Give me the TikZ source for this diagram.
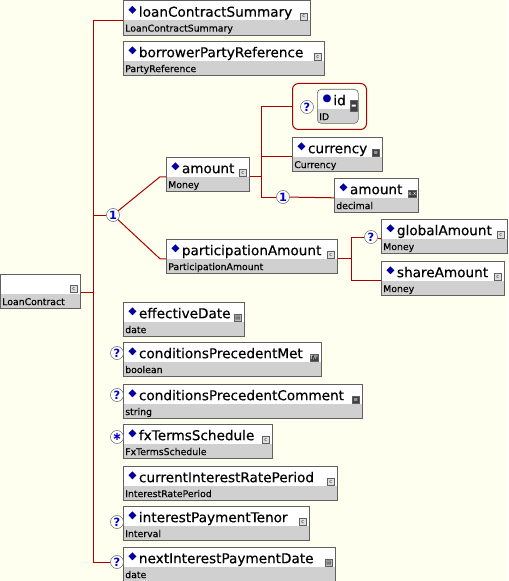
\documentclass[tikz,border=0pt]{standalone}
\usepackage{fontspec}
\setmainfont{DejaVu Sans}
\newfontfamily\namefam{DejaVu Sans}[FakeBold=0.4]
\usepackage{tikz}
\usetikzlibrary{positioning,shapes.multipart,calc}

\definecolor{canvas}{RGB}{255,255,240}
\definecolor{wirered}{RGB}{170,0,0}
\definecolor{boxline}{RGB}{96,96,96}
\definecolor{typegray}{RGB}{208,208,208}
\definecolor{dmdblue}{RGB}{0,0,160}
\definecolor{cardblue}{RGB}{0,0,200}
\definecolor{icondark}{RGB}{64,64,64}

\newcommand{\namefont}{\namefam\fontsize{10.2}{12}\selectfont}
\newcommand{\typefont}{\fontsize{7}{8}\selectfont}
\newcommand{\namestrut}{\rule[-2.5pt]{0pt}{14.25pt}}
\newcommand{\typestrut}{\rule[-2.25pt]{0pt}{10.5pt}}
\newcommand{\dmd}{\hspace*{2.5pt}\textcolor{dmdblue}{\raisebox{3.2pt}{\fontsize{7.5}{7.5}\selectfont ◆}}\hspace{2pt}}
\newcommand{\attdot}{\hspace*{2.5pt}\textcolor{dmdblue}{\raisebox{3.2pt}{\fontsize{7.5}{7.5}\selectfont ●}}\hspace{1.5pt}}

\begin{document}
\begin{tikzpicture}[
    x=0.75pt, y=-0.75pt,
    elem/.style={rectangle split, rectangle split parts=2,
      rectangle split draw splits=false,
      rectangle split part fill={white,typegray},
      rectangle split part align={left,left},
      draw=boxline, inner xsep=1.5pt, inner ysep=0pt,
      anchor=north west, font=\namefont},
    boxw/.style={minimum width=#1*0.75pt},
    icon/.style={draw=boxline, inner sep=0pt, minimum size=5.25pt,
      anchor=south east, font=\fontsize{4}{4}\selectfont},
    cpxicon/.style={icon, fill=gray!25, text=black!80},
    simpleicon/.style={icon, fill=icondark, text=white},
    dateicon/.style={icon, fill=gray!55, text=black!80},
    card/.style={circle, draw=gray!80!black, fill=white, inner sep=0pt,
      minimum size=9.75pt, text=cardblue, font=\bfseries\fontsize{8.5}{8.5}\selectfont},
    wire/.style={draw=wirered, line width=0.75pt},
    group/.style={draw=wirered, line width=0.75pt, rounded corners=4.5pt},
  ]

  \fill[canvas] (0,0) rectangle (508,581);
  \useasboundingbox (0,0) rectangle (508,581);

  % --- root ---
  \node[elem, boxw=80] (root) at (0,274) {\namestrut \nodepart{two}\typefont\typestrut LoanContract};
  \node[cpxicon] (root-ic) at ($(root.text split east)+(-3,-1)$) {c};

  % --- sequence children ---
  \node[elem, boxw=187] (lcs) at (123,0.5) {\namestrut\dmd loanContractSummary \nodepart{two}\typefont\typestrut LoanContractSummary};
  \node[cpxicon] (lcs-ic) at ($(lcs.text split east)+(-3,0)$) {c};

  \node[elem, boxw=201] (bpr) at (123,41) {\namestrut\dmd borrowerPartyReference \nodepart{two}\typefont\typestrut PartyReference};
  \node[cpxicon] (bpr-ic) at ($(bpr.text split east)+(-3,0)$) {c};

  \node[elem, boxw=121] (eff) at (123,302) {\namestrut\dmd effectiveDate \nodepart{two}\typefont\typestrut date};
  \node[dateicon] (eff-ic) at ($(eff.text split east)+(-3,0)$) {▤};

  \node[elem, boxw=198] (cpm) at (123,342) {\namestrut\dmd conditionsPrecedentMet \nodepart{two}\typefont\typestrut boolean};
  \node[simpleicon] (cpm-ic) at ($(cpm.text split east)+(-3,0)$) {T/F};

  \node[elem, boxw=239] (cpc) at (123,384) {\namestrut\dmd conditionsPrecedentComment \nodepart{two}\typefont\typestrut string};
  \node[simpleicon] (cpc-ic) at ($(cpc.text split east)+(-3,0)$) {≡};

  \node[elem, boxw=149] (fxts) at (123,424) {\namestrut\dmd fxTermsSchedule \nodepart{two}\typefont\typestrut FxTermsSchedule};
  \node[cpxicon] (fxts-ic) at ($(fxts.text split east)+(-3,0)$) {c};

  \node[elem, boxw=214] (cirp) at (123,466) {\namestrut\dmd currentInterestRatePeriod \nodepart{two}\typefont\typestrut InterestRatePeriod};
  \node[cpxicon] (cirp-ic) at ($(cirp.text split east)+(-3,0)$) {c};

  \node[elem, boxw=186] (ipt) at (123,506) {\namestrut\dmd interestPaymentTenor \nodepart{two}\typefont\typestrut Interval};
  \node[cpxicon] (ipt-ic) at ($(ipt.text split east)+(-3,0)$) {c};

  \node[elem, boxw=212] (nipd) at (123,547) {\namestrut\dmd nextInterestPaymentDate \nodepart{two}\typefont\typestrut date};
  \node[dateicon] (nipd-ic) at ($(nipd.text split east)+(-3,0)$) {▤};

  % --- choice branch ---
  \node[elem, boxw=83] (amt) at (166,157) {\namestrut\dmd amount \nodepart{two}\typefont\typestrut Money};
  \node[cpxicon] (amt-ic) at ($(amt.text split east)+(-3,0)$) {c};

  \node[elem, boxw=171] (pa) at (166,239) {\namestrut\dmd participationAmount \nodepart{two}\typefont\typestrut ParticipationAmount};
  \node[cpxicon] (pa-ic) at ($(pa.text split east)+(-3,0)$) {c};

  % --- Money ---
  \node[group, minimum width=74*0.75pt, minimum height=46*0.75pt, anchor=north west] (idgrp) at (292,83) {};
  \node[elem, boxw=41, rounded corners=3pt] (idbox) at (317,89) {\namestrut\attdot id \nodepart{two}\typefont\typestrut ID};
  \node[simpleicon, minimum height=8.25pt] (id-ic) at ($(idbox.text split east)+(-1,3)$) {▬};

  \node[elem, boxw=90] (cur) at (292,137) {\namestrut\dmd currency \nodepart{two}\typefont\typestrut Currency};
  \node[simpleicon] (cur-ic) at ($(cur.text split east)+(-3,0)$) {≡};

  \node[elem, boxw=84] (dec) at (334,178) {\namestrut\dmd amount \nodepart{two}\typefont\typestrut decimal};
  \node[simpleicon] (dec-ic) at ($(dec.text split east)+(-2,0)$) {x.x};

  % --- ParticipationAmount ---
  \node[elem, boxw=126] (glob) at (381,219) {\namestrut\dmd globalAmount \nodepart{two}\typefont\typestrut Money};
  \node[cpxicon] (glob-ic) at ($(glob.text split east)+(-3,0)$) {c};

  \node[elem, boxw=123] (share) at (381,261) {\namestrut\dmd shareAmount \nodepart{two}\typefont\typestrut Money};
  \node[cpxicon] (share-ic) at ($(share.text split east)+(-3,0)$) {c};

  % --- cardinalities ---
  \node[card] (choice) at (113,215) {1};
  \node[card] (idq) at (307,107) {?};
  \node[card] (decq) at (283,197) {1};
  \node[card] (globq) at (371,237) {?};
  \node[card] (cpmq) at (117,353) {?};
  \node[card] (cpcq) at (117,395) {?};
  \node[card] (fxtsq) at (117,437) {∗};
  \node[card] (iptq) at (117,522) {?};
  \node[card] (nipdq) at (117,562) {?};

  % --- connectors ---
  \coordinate (spine) at (93,0);
  \coordinate (rootout) at ($(root.text split east)+(0,-1)$);
  \draw[wire] (lcs.text split west) -| (spine |- nipdq.west) -- (nipdq.west);
  \draw[wire] (rootout) -- (spine |- rootout);
  \draw[wire] (spine |- choice) -- (choice);
  \draw[wire] (choice) -- ($(amt.text split west)+(-6,0)$) -- (amt.text split west);
  \draw[wire] (choice) -- ($(pa.text split west)+(-6,0)$) -- (pa.text split west);

  \coordinate (amtfork) at ($(amt.text split east)+(12,0)$);
  \draw[wire] (amt.text split east) -- (amtfork) |- (idgrp.west);
  \draw[wire] (amtfork) |- (cur.text split west);
  \draw[wire] (amtfork) |- (decq.west);
  \draw[wire] (decq) -- (dec.text split west);

  \coordinate (pafork) at ($(pa.text split east)+(14,0)$);
  \draw[wire] (pa.text split east) -- (pafork) |- (globq.west);
  \draw[wire] (pafork) |- (share.text split west);
  \draw[wire] (globq) -- (glob.text split west);

\end{tikzpicture}
\end{document}
